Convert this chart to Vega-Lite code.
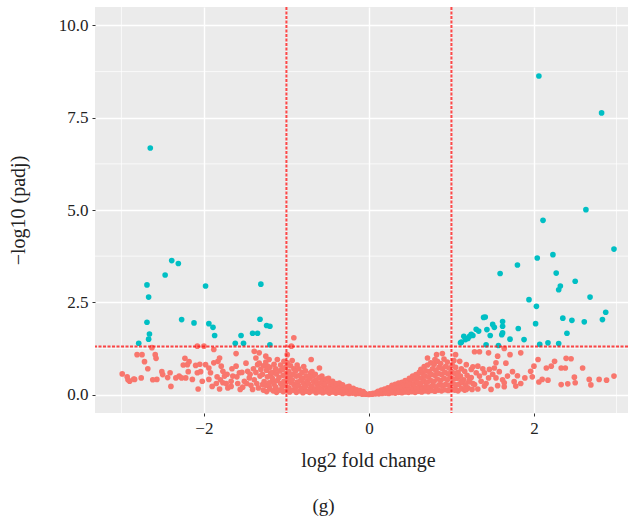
{
  "$schema": "https://vega.github.io/schema/vega-lite/v6.json",
  "width": 533,
  "height": 406,
  "autosize": "none",
  "padding": {"left": 95, "top": 7, "right": 1, "bottom": 104},
  "title": {"text": "(g)", "orient": "bottom", "anchor": "middle", "offset": 27, "dx": -38, "font": "Liberation Serif", "fontSize": 19, "fontWeight": "normal", "color": "#222"},
  "config": {
    "view": {"fill": "#EBEBEB", "stroke": null},
    "axis": {"domain": false, "grid": true, "gridColor": "#FFFFFF", "gridWidth": 1.4, "tickColor": "#333333", "tickSize": 3, "labelFont": "Liberation Serif", "labelFontSize": 17, "labelColor": "#222222", "titleFont": "Liberation Serif", "titleFontSize": 20, "titleFontWeight": "normal", "titleColor": "#222222", "labelPadding": 4}
  },
  "datasets": {
    "pts": [
      {"x":-2.65,"y":6.68,"g":"yes"},{"x":-2.39,"y":3.63,"g":"yes"},{"x":-2.31,"y":3.55,"g":"yes"},{"x":-2.47,"y":3.24,"g":"yes"},{"x":-2.69,"y":2.97,"g":"yes"},{"x":-2.67,"y":2.64,"g":"yes"},{"x":-1.98,"y":2.94,"g":"yes"},{"x":-1.31,"y":2.99,"g":"yes"},{"x":-2.69,"y":1.96,"g":"yes"},{"x":-2.27,"y":2.03,"g":"yes"},{"x":-2.12,"y":1.94,"g":"yes"},{"x":-1.94,"y":1.92,"g":"yes"},{"x":-1.89,"y":1.82,"g":"yes"},{"x":-1.87,"y":1.60,"g":"yes"},{"x":-2.66,"y":1.64,"g":"yes"},{"x":-2.67,"y":1.50,"g":"yes"},{"x":-2.79,"y":1.39,"g":"yes"},{"x":-1.55,"y":1.60,"g":"yes"},{"x":-1.62,"y":1.39,"g":"yes"},{"x":-1.52,"y":1.39,"g":"yes"},{"x":-1.41,"y":1.66,"g":"yes"},{"x":-1.35,"y":1.66,"g":"yes"},{"x":-1.32,"y":2.04,"g":"yes"},{"x":-1.24,"y":1.87,"g":"yes"},{"x":-1.20,"y":1.85,"g":"yes"},{"x":-1.20,"y":1.35,"g":"yes"},
      {"x":2.06,"y":8.63,"g":"yes"},{"x":2.82,"y":7.63,"g":"yes"},{"x":2.63,"y":5.01,"g":"yes"},{"x":2.11,"y":4.72,"g":"yes"},{"x":2.97,"y":3.94,"g":"yes"},{"x":2.23,"y":3.79,"g":"yes"},{"x":2.04,"y":3.70,"g":"yes"},{"x":1.80,"y":3.51,"g":"yes"},{"x":1.59,"y":3.28,"g":"yes"},{"x":2.27,"y":3.29,"g":"yes"},{"x":2.50,"y":3.07,"g":"yes"},{"x":2.32,"y":2.94,"g":"yes"},{"x":2.30,"y":2.84,"g":"yes"},{"x":2.68,"y":2.64,"g":"yes"},{"x":1.94,"y":2.57,"g":"yes"},{"x":2.03,"y":2.39,"g":"yes"},{"x":2.87,"y":2.23,"g":"yes"},{"x":2.83,"y":2.03,"g":"yes"},{"x":2.61,"y":1.97,"g":"yes"},{"x":2.46,"y":2.01,"g":"yes"},{"x":2.35,"y":2.07,"g":"yes"},{"x":2.02,"y":1.92,"g":"yes"},{"x":2.40,"y":1.66,"g":"yes"},{"x":1.39,"y":2.09,"g":"yes"},{"x":1.41,"y":2.10,"g":"yes"},{"x":1.62,"y":1.98,"g":"yes"},{"x":1.62,"y":1.85,"g":"yes"},{"x":1.50,"y":1.90,"g":"yes"},{"x":1.52,"y":1.82,"g":"yes"},{"x":1.43,"y":1.76,"g":"yes"},{"x":1.47,"y":1.60,"g":"yes"},{"x":1.62,"y":1.67,"g":"yes"},{"x":1.61,"y":1.62,"g":"yes"},{"x":1.81,"y":1.79,"g":"yes"},{"x":1.30,"y":1.77,"g":"yes"},{"x":1.24,"y":1.63,"g":"yes"},{"x":1.22,"y":1.58,"g":"yes"},{"x":1.15,"y":1.58,"g":"yes"},{"x":1.17,"y":1.49,"g":"yes"},{"x":1.11,"y":1.40,"g":"yes"},{"x":1.71,"y":1.50,"g":"yes"},{"x":1.88,"y":1.49,"g":"yes"},{"x":1.42,"y":1.35,"g":"yes"},{"x":1.57,"y":1.33,"g":"yes"},{"x":2.07,"y":1.36,"g":"yes"},{"x":2.17,"y":1.40,"g":"yes"},{"x":2.30,"y":1.38,"g":"yes"},{"x":1.12,"y":1.42,"g":"yes"},{"x":1.20,"y":1.52,"g":"yes"},{"x":1.26,"y":1.60,"g":"yes"},{"x":1.33,"y":1.72,"g":"yes"},
      {"x":-2.81,"y":1.08,"g":"no"},{"x":-2.75,"y":1.08,"g":"no"},{"x":-2.72,"y":0.89,"g":"no"},{"x":-2.68,"y":0.70,"g":"no"},{"x":-2.63,"y":1.27,"g":"no"},{"x":-2.59,"y":1.08,"g":"no"},{"x":-2.58,"y":0.98,"g":"no"},{"x":-2.99,"y":0.56,"g":"no"},{"x":-2.93,"y":0.48,"g":"no"},{"x":-2.90,"y":0.36,"g":"no"},{"x":-2.84,"y":0.41,"g":"no"},{"x":-2.76,"y":0.45,"g":"no"},{"x":-2.57,"y":0.41,"g":"no"},{"x":-2.51,"y":0.62,"g":"no"},{"x":-2.50,"y":0.54,"g":"no"},{"x":-2.41,"y":0.59,"g":"no"},{"x":-2.40,"y":0.22,"g":"no"},{"x":-2.34,"y":0.45,"g":"no"},{"x":-2.30,"y":0.50,"g":"no"},{"x":-2.23,"y":0.98,"g":"no"},{"x":-2.18,"y":0.89,"g":"no"},{"x":-2.20,"y":0.81,"g":"no"},{"x":-2.19,"y":0.62,"g":"no"},{"x":-2.22,"y":0.45,"g":"no"},{"x":-2.14,"y":0.41,"g":"no"},{"x":-2.10,"y":0.79,"g":"no"},{"x":-2.08,"y":0.59,"g":"no"},{"x":-2.07,"y":0.15,"g":"no"},{"x":-2.02,"y":0.36,"g":"no"},{"x":-2.00,"y":1.31,"g":"no"},{"x":-2.08,"y":1.31,"g":"no"},{"x":-1.98,"y":0.81,"g":"no"},{"x":-1.94,"y":0.72,"g":"no"},{"x":-1.92,"y":0.59,"g":"no"},{"x":-1.94,"y":0.41,"g":"no"},{"x":-1.90,"y":0.22,"g":"no"},{"x":-1.88,"y":1.22,"g":"no"},{"x":-1.88,"y":0.86,"g":"no"},{"x":-1.83,"y":0.90,"g":"no"},{"x":-1.81,"y":0.99,"g":"no"},{"x":-1.79,"y":0.77,"g":"no"},{"x":-1.77,"y":0.63,"g":"no"},{"x":-1.75,"y":0.50,"g":"no"},{"x":-1.77,"y":0.32,"g":"no"},{"x":-1.71,"y":0.18,"g":"no"},{"x":-1.67,"y":0.36,"g":"no"},{"x":-1.65,"y":0.50,"g":"no"},{"x":-1.61,"y":1.11,"g":"no"},{"x":-1.61,"y":0.77,"g":"no"},{"x":-1.57,"y":0.59,"g":"no"},{"x":-1.56,"y":0.14,"g":"no"},{"x":-1.51,"y":0.36,"g":"no"},{"x":-1.47,"y":0.63,"g":"no"},{"x":-1.45,"y":0.45,"g":"no"},{"x":-1.41,"y":0.14,"g":"no"},{"x":-1.39,"y":1.17,"g":"no"},{"x":-1.37,"y":0.99,"g":"no"},{"x":-1.35,"y":0.81,"g":"no"},{"x":-1.33,"y":1.13,"g":"no"},{"x":-1.31,"y":0.68,"g":"no"},{"x":-1.32,"y":0.50,"g":"no"},{"x":-1.29,"y":0.27,"g":"no"},{"x":-1.25,"y":1.04,"g":"no"},{"x":-1.23,"y":0.77,"g":"no"},{"x":-1.21,"y":0.95,"g":"no"},{"x":-1.19,"y":0.59,"g":"no"},{"x":-1.17,"y":0.36,"g":"no"},{"x":-1.21,"y":0.22,"g":"no"},
      {"x":-2.92,"y":0.40,"g":"no"},{"x":-2.85,"y":0.42,"g":"no"},{"x":-2.62,"y":0.40,"g":"no"},{"x":-2.44,"y":0.46,"g":"no"},{"x":-2.25,"y":0.80,"g":"no"},{"x":-2.27,"y":0.45,"g":"no"},{"x":-2.04,"y":0.62,"g":"no"},{"x":-2.05,"y":0.82,"g":"no"},
      {"x":-1.85,"y":0.30,"g":"no"},{"x":-1.84,"y":0.48,"g":"no"},{"x":-1.80,"y":0.40,"g":"no"},{"x":-1.81,"y":0.15,"g":"no"},{"x":-1.72,"y":0.55,"g":"no"},{"x":-1.73,"y":0.30,"g":"no"},{"x":-1.66,"y":0.70,"g":"no"},{"x":-1.67,"y":0.22,"g":"no"},{"x":-1.60,"y":0.48,"g":"no"},{"x":-1.59,"y":0.30,"g":"no"},{"x":-1.54,"y":0.60,"g":"no"},{"x":-1.53,"y":0.20,"g":"no"},{"x":-1.48,"y":0.30,"g":"no"},{"x":-1.49,"y":0.85,"g":"no"},{"x":-1.44,"y":0.55,"g":"no"},{"x":-1.43,"y":0.25,"g":"no"},{"x":-1.40,"y":0.70,"g":"no"},{"x":-1.39,"y":0.40,"g":"no"},{"x":-1.36,"y":0.30,"g":"no"},{"x":-1.37,"y":0.60,"g":"no"},{"x":-1.33,"y":0.85,"g":"no"},{"x":-1.34,"y":0.18,"g":"no"},
      {"x":-0.91,"y":1.54,"g":"no"},{"x":-0.94,"y":1.31,"g":"no"},{"x":-0.99,"y":1.08,"g":"no"},{"x":-0.70,"y":0.95,"g":"no"},{"x":-0.60,"y":0.72,"g":"no"},{"x":0.71,"y":0.99,"g":"no"},{"x":0.82,"y":1.08,"g":"no"},{"x":0.89,"y":1.11,"g":"no"},
      {"x":-1.28,"y":0.12,"g":"no"},{"x":-1.27,"y":0.35,"g":"no"},{"x":-1.29,"y":0.55,"g":"no"},{"x":-1.28,"y":0.78,"g":"no"},
      {"x":-1.24,"y":0.08,"g":"no"},{"x":-1.25,"y":0.25,"g":"no"},{"x":-1.23,"y":0.48,"g":"no"},{"x":-1.24,"y":0.66,"g":"no"},{"x":-1.25,"y":0.88,"g":"no"},
      {"x":-1.20,"y":0.15,"g":"no"},{"x":-1.21,"y":0.32,"g":"no"},{"x":-1.19,"y":0.52,"g":"no"},{"x":-1.20,"y":0.74,"g":"no"},
      {"x":-1.16,"y":0.10,"g":"no"},{"x":-1.15,"y":0.28,"g":"no"},{"x":-1.17,"y":0.44,"g":"no"},{"x":-1.16,"y":0.60,"g":"no"},{"x":-1.15,"y":0.82,"g":"no"},
      {"x":-1.12,"y":0.06,"g":"no"},{"x":-1.13,"y":0.20,"g":"no"},{"x":-1.11,"y":0.38,"g":"no"},{"x":-1.12,"y":0.56,"g":"no"},{"x":-1.13,"y":0.70,"g":"no"},{"x":-1.11,"y":0.95,"g":"no"},
      {"x":-1.08,"y":0.12,"g":"no"},{"x":-1.07,"y":0.30,"g":"no"},{"x":-1.09,"y":0.46,"g":"no"},{"x":-1.08,"y":0.64,"g":"no"},{"x":-1.07,"y":0.80,"g":"no"},
      {"x":-1.04,"y":0.08,"g":"no"},{"x":-1.05,"y":0.22,"g":"no"},{"x":-1.03,"y":0.36,"g":"no"},{"x":-1.04,"y":0.52,"g":"no"},{"x":-1.05,"y":0.68,"g":"no"},{"x":-1.03,"y":0.90,"g":"no"},
      {"x":-1.00,"y":0.10,"g":"no"},{"x":-1.01,"y":0.26,"g":"no"},{"x":-0.99,"y":0.42,"g":"no"},{"x":-1.00,"y":0.58,"g":"no"},{"x":-1.01,"y":0.74,"g":"no"},{"x":-0.99,"y":0.86,"g":"no"},
      {"x":-0.96,"y":0.07,"g":"no"},{"x":-0.97,"y":0.18,"g":"no"},{"x":-0.95,"y":0.33,"g":"no"},{"x":-0.96,"y":0.48,"g":"no"},{"x":-0.97,"y":0.62,"g":"no"},{"x":-0.95,"y":0.78,"g":"no"},
      {"x":-0.92,"y":0.12,"g":"no"},{"x":-0.91,"y":0.27,"g":"no"},{"x":-0.93,"y":0.40,"g":"no"},{"x":-0.92,"y":0.55,"g":"no"},{"x":-0.91,"y":0.70,"g":"no"},{"x":-0.93,"y":0.92,"g":"no"},
      {"x":-0.88,"y":0.06,"g":"no"},{"x":-0.89,"y":0.20,"g":"no"},{"x":-0.87,"y":0.34,"g":"no"},{"x":-0.88,"y":0.50,"g":"no"},{"x":-0.89,"y":0.64,"g":"no"},{"x":-0.87,"y":0.80,"g":"no"},
      {"x":-0.84,"y":0.10,"g":"no"},{"x":-0.85,"y":0.24,"g":"no"},{"x":-0.83,"y":0.38,"g":"no"},{"x":-0.84,"y":0.52,"g":"no"},{"x":-0.85,"y":0.70,"g":"no"},
      {"x":-0.80,"y":0.05,"g":"no"},{"x":-0.81,"y":0.16,"g":"no"},{"x":-0.79,"y":0.30,"g":"no"},{"x":-0.80,"y":0.44,"g":"no"},{"x":-0.81,"y":0.60,"g":"no"},{"x":-0.79,"y":0.76,"g":"no"},
      {"x":-0.76,"y":0.09,"g":"no"},{"x":-0.77,"y":0.22,"g":"no"},{"x":-0.75,"y":0.36,"g":"no"},{"x":-0.76,"y":0.50,"g":"no"},{"x":-0.77,"y":0.64,"g":"no"},
      {"x":-0.72,"y":0.06,"g":"no"},{"x":-0.71,"y":0.17,"g":"no"},{"x":-0.73,"y":0.30,"g":"no"},{"x":-0.72,"y":0.44,"g":"no"},{"x":-0.71,"y":0.58,"g":"no"},
      {"x":-0.68,"y":0.10,"g":"no"},{"x":-0.69,"y":0.22,"g":"no"},{"x":-0.67,"y":0.35,"g":"no"},{"x":-0.68,"y":0.50,"g":"no"},{"x":-0.69,"y":0.62,"g":"no"},
      {"x":-0.64,"y":0.05,"g":"no"},{"x":-0.65,"y":0.15,"g":"no"},{"x":-0.63,"y":0.28,"g":"no"},{"x":-0.64,"y":0.40,"g":"no"},{"x":-0.65,"y":0.55,"g":"no"},
      {"x":-0.60,"y":0.08,"g":"no"},{"x":-0.61,"y":0.20,"g":"no"},{"x":-0.59,"y":0.32,"g":"no"},{"x":-0.60,"y":0.46,"g":"no"},
      {"x":-0.56,"y":0.05,"g":"no"},{"x":-0.57,"y":0.14,"g":"no"},{"x":-0.55,"y":0.25,"g":"no"},{"x":-0.56,"y":0.38,"g":"no"},{"x":-0.57,"y":0.50,"g":"no"},
      {"x":-0.52,"y":0.08,"g":"no"},{"x":-0.51,"y":0.18,"g":"no"},{"x":-0.53,"y":0.30,"g":"no"},{"x":-0.52,"y":0.42,"g":"no"},
      {"x":-0.48,"y":0.04,"g":"no"},{"x":-0.49,"y":0.12,"g":"no"},{"x":-0.47,"y":0.22,"g":"no"},{"x":-0.48,"y":0.34,"g":"no"},{"x":-0.49,"y":0.44,"g":"no"},
      {"x":-0.44,"y":0.07,"g":"no"},{"x":-0.45,"y":0.16,"g":"no"},{"x":-0.43,"y":0.26,"g":"no"},{"x":-0.44,"y":0.36,"g":"no"},
      {"x":-0.40,"y":0.04,"g":"no"},{"x":-0.41,"y":0.11,"g":"no"},{"x":-0.39,"y":0.20,"g":"no"},{"x":-0.40,"y":0.30,"g":"no"},
      {"x":-0.36,"y":0.06,"g":"no"},{"x":-0.37,"y":0.14,"g":"no"},{"x":-0.35,"y":0.23,"g":"no"},{"x":-0.36,"y":0.31,"g":"no"},
      {"x":-0.32,"y":0.03,"g":"no"},{"x":-0.33,"y":0.10,"g":"no"},{"x":-0.31,"y":0.18,"g":"no"},{"x":-0.32,"y":0.26,"g":"no"},
      {"x":-0.28,"y":0.05,"g":"no"},{"x":-0.29,"y":0.12,"g":"no"},{"x":-0.27,"y":0.20,"g":"no"},
      {"x":-0.24,"y":0.03,"g":"no"},{"x":-0.25,"y":0.09,"g":"no"},{"x":-0.23,"y":0.16,"g":"no"},{"x":-0.24,"y":0.22,"g":"no"},
      {"x":-0.20,"y":0.04,"g":"no"},{"x":-0.21,"y":0.10,"g":"no"},{"x":-0.19,"y":0.17,"g":"no"},
      {"x":-0.16,"y":0.02,"g":"no"},{"x":-0.17,"y":0.07,"g":"no"},{"x":-0.15,"y":0.13,"g":"no"},
      {"x":-0.12,"y":0.03,"g":"no"},{"x":-0.13,"y":0.08,"g":"no"},{"x":-0.11,"y":0.11,"g":"no"},
      {"x":-0.08,"y":0.01,"g":"no"},{"x":-0.09,"y":0.05,"g":"no"},{"x":-0.07,"y":0.08,"g":"no"},
      {"x":-0.04,"y":0.01,"g":"no"},{"x":-0.05,"y":0.03,"g":"no"},
      {"x":0.00,"y":0.00,"g":"no"},{"x":0.01,"y":0.02,"g":"no"},
      {"x":0.04,"y":0.01,"g":"no"},{"x":0.05,"y":0.03,"g":"no"},
      {"x":0.08,"y":0.02,"g":"no"},{"x":0.09,"y":0.05,"g":"no"},
      {"x":0.12,"y":0.02,"g":"no"},{"x":0.13,"y":0.06,"g":"no"},{"x":0.11,"y":0.09,"g":"no"},
      {"x":0.16,"y":0.03,"g":"no"},{"x":0.17,"y":0.08,"g":"no"},{"x":0.15,"y":0.12,"g":"no"},
      {"x":0.20,"y":0.04,"g":"no"},{"x":0.21,"y":0.09,"g":"no"},{"x":0.19,"y":0.15,"g":"no"},
      {"x":0.24,"y":0.03,"g":"no"},{"x":0.25,"y":0.10,"g":"no"},{"x":0.23,"y":0.18,"g":"no"},
      {"x":0.28,"y":0.05,"g":"no"},{"x":0.29,"y":0.12,"g":"no"},{"x":0.27,"y":0.20,"g":"no"},{"x":0.28,"y":0.25,"g":"no"},
      {"x":0.32,"y":0.04,"g":"no"},{"x":0.33,"y":0.11,"g":"no"},{"x":0.31,"y":0.19,"g":"no"},{"x":0.32,"y":0.28,"g":"no"},
      {"x":0.36,"y":0.06,"g":"no"},{"x":0.37,"y":0.14,"g":"no"},{"x":0.35,"y":0.23,"g":"no"},{"x":0.36,"y":0.31,"g":"no"},
      {"x":0.40,"y":0.05,"g":"no"},{"x":0.41,"y":0.13,"g":"no"},{"x":0.39,"y":0.22,"g":"no"},{"x":0.40,"y":0.33,"g":"no"},
      {"x":0.44,"y":0.07,"g":"no"},{"x":0.45,"y":0.16,"g":"no"},{"x":0.43,"y":0.27,"g":"no"},{"x":0.44,"y":0.38,"g":"no"},
      {"x":0.48,"y":0.06,"g":"no"},{"x":0.49,"y":0.15,"g":"no"},{"x":0.47,"y":0.26,"g":"no"},{"x":0.48,"y":0.36,"g":"no"},{"x":0.49,"y":0.44,"g":"no"},
      {"x":0.52,"y":0.08,"g":"no"},{"x":0.53,"y":0.18,"g":"no"},{"x":0.51,"y":0.30,"g":"no"},{"x":0.52,"y":0.42,"g":"no"},{"x":0.53,"y":0.50,"g":"no"},
      {"x":0.56,"y":0.06,"g":"no"},{"x":0.57,"y":0.16,"g":"no"},{"x":0.55,"y":0.28,"g":"no"},{"x":0.56,"y":0.40,"g":"no"},{"x":0.57,"y":0.54,"g":"no"},
      {"x":0.60,"y":0.09,"g":"no"},{"x":0.61,"y":0.20,"g":"no"},{"x":0.59,"y":0.33,"g":"no"},{"x":0.60,"y":0.46,"g":"no"},{"x":0.61,"y":0.60,"g":"no"},
      {"x":0.64,"y":0.07,"g":"no"},{"x":0.65,"y":0.18,"g":"no"},{"x":0.63,"y":0.30,"g":"no"},{"x":0.64,"y":0.44,"g":"no"},{"x":0.65,"y":0.58,"g":"no"},{"x":0.63,"y":0.68,"g":"no"},
      {"x":0.68,"y":0.10,"g":"no"},{"x":0.69,"y":0.22,"g":"no"},{"x":0.67,"y":0.36,"g":"no"},{"x":0.68,"y":0.50,"g":"no"},{"x":0.69,"y":0.64,"g":"no"},{"x":0.67,"y":0.76,"g":"no"},
      {"x":0.72,"y":0.08,"g":"no"},{"x":0.73,"y":0.20,"g":"no"},{"x":0.71,"y":0.34,"g":"no"},{"x":0.72,"y":0.48,"g":"no"},{"x":0.73,"y":0.62,"g":"no"},{"x":0.71,"y":0.80,"g":"no"},
      {"x":0.76,"y":0.11,"g":"no"},{"x":0.77,"y":0.24,"g":"no"},{"x":0.75,"y":0.38,"g":"no"},{"x":0.76,"y":0.54,"g":"no"},{"x":0.77,"y":0.70,"g":"no"},{"x":0.75,"y":0.86,"g":"no"},
      {"x":0.80,"y":0.09,"g":"no"},{"x":0.81,"y":0.21,"g":"no"},{"x":0.79,"y":0.36,"g":"no"},{"x":0.80,"y":0.52,"g":"no"},{"x":0.81,"y":0.66,"g":"no"},{"x":0.79,"y":0.82,"g":"no"},{"x":0.80,"y":0.95,"g":"no"},
      {"x":0.84,"y":0.12,"g":"no"},{"x":0.85,"y":0.26,"g":"no"},{"x":0.83,"y":0.42,"g":"no"},{"x":0.84,"y":0.58,"g":"no"},{"x":0.85,"y":0.74,"g":"no"},{"x":0.83,"y":0.90,"g":"no"},
      {"x":0.88,"y":0.10,"g":"no"},{"x":0.89,"y":0.24,"g":"no"},{"x":0.87,"y":0.38,"g":"no"},{"x":0.88,"y":0.54,"g":"no"},{"x":0.89,"y":0.70,"g":"no"},{"x":0.87,"y":0.84,"g":"no"},
      {"x":0.92,"y":0.13,"g":"no"},{"x":0.93,"y":0.28,"g":"no"},{"x":0.91,"y":0.44,"g":"no"},{"x":0.92,"y":0.60,"g":"no"},{"x":0.93,"y":0.76,"g":"no"},{"x":0.91,"y":0.96,"g":"no"},
      {"x":0.96,"y":0.11,"g":"no"},{"x":0.97,"y":0.25,"g":"no"},{"x":0.95,"y":0.40,"g":"no"},{"x":0.96,"y":0.56,"g":"no"},{"x":0.97,"y":0.72,"g":"no"},{"x":0.95,"y":0.88,"g":"no"},
      {"x":1.00,"y":0.14,"g":"no"},{"x":1.01,"y":0.30,"g":"no"},{"x":0.99,"y":0.46,"g":"no"},{"x":1.00,"y":0.62,"g":"no"},{"x":1.01,"y":0.80,"g":"no"},
      {"x":1.04,"y":0.12,"g":"no"},{"x":1.05,"y":0.26,"g":"no"},{"x":1.03,"y":0.42,"g":"no"},{"x":1.04,"y":0.58,"g":"no"},{"x":1.05,"y":0.74,"g":"no"},{"x":1.03,"y":0.92,"g":"no"},
      {"x":1.08,"y":0.10,"g":"no"},{"x":1.09,"y":0.28,"g":"no"},{"x":1.07,"y":0.44,"g":"no"},{"x":1.08,"y":0.60,"g":"no"},
      {"x":1.12,"y":0.16,"g":"no"},{"x":1.13,"y":0.32,"g":"no"},{"x":1.11,"y":0.50,"g":"no"},{"x":1.12,"y":0.70,"g":"no"},
      {"x":1.16,"y":0.12,"g":"no"},{"x":1.17,"y":0.26,"g":"no"},{"x":1.15,"y":0.40,"g":"no"},
      {"x":1.20,"y":0.18,"g":"no"},{"x":1.21,"y":0.34,"g":"no"},{"x":1.19,"y":0.52,"g":"no"},
      {"x":1.25,"y":0.14,"g":"no"},{"x":1.26,"y":0.30,"g":"no"},{"x":1.24,"y":0.46,"g":"no"},
      {"x":1.05,"y":1.08,"g":"no"},{"x":1.28,"y":1.16,"g":"no"},{"x":1.34,"y":1.16,"g":"no"},{"x":1.45,"y":1.13,"g":"no"},{"x":1.56,"y":1.04,"g":"no"},{"x":1.64,"y":1.25,"g":"no"},{"x":1.71,"y":1.08,"g":"no"},{"x":1.84,"y":1.13,"g":"no"},{"x":2.05,"y":0.95,"g":"no"},{"x":2.39,"y":0.98,"g":"no"},{"x":2.45,"y":0.97,"g":"no"},{"x":2.25,"y":0.90,"g":"no"},{"x":2.21,"y":0.77,"g":"no"},{"x":2.15,"y":0.72,"g":"no"},{"x":2.00,"y":0.77,"g":"no"},{"x":1.96,"y":0.63,"g":"no"},{"x":2.33,"y":0.72,"g":"no"},{"x":2.38,"y":0.72,"g":"no"},{"x":2.59,"y":0.72,"g":"no"},{"x":2.49,"y":0.47,"g":"no"},{"x":2.50,"y":0.32,"g":"no"},{"x":2.41,"y":0.29,"g":"no"},{"x":2.33,"y":0.27,"g":"no"},{"x":2.67,"y":0.41,"g":"no"},{"x":2.69,"y":0.26,"g":"no"},{"x":2.79,"y":0.41,"g":"no"},{"x":2.88,"y":0.39,"g":"no"},{"x":2.97,"y":0.50,"g":"no"},{"x":2.17,"y":0.39,"g":"no"},{"x":2.10,"y":0.41,"g":"no"},{"x":2.06,"y":0.34,"g":"no"},{"x":1.98,"y":0.48,"g":"no"},{"x":1.89,"y":0.45,"g":"no"},{"x":1.84,"y":0.30,"g":"no"},{"x":1.80,"y":0.51,"g":"no"},{"x":1.78,"y":0.23,"g":"no"},{"x":1.68,"y":0.50,"g":"no"},{"x":1.64,"y":0.32,"g":"no"},{"x":1.54,"y":0.45,"g":"no"},{"x":1.56,"y":0.24,"g":"no"},{"x":1.52,"y":0.72,"g":"no"},{"x":1.46,"y":0.68,"g":"no"},{"x":1.54,"y":0.86,"g":"no"},{"x":1.40,"y":0.59,"g":"no"},{"x":1.32,"y":0.77,"g":"no"},{"x":1.30,"y":0.59,"g":"no"},{"x":1.24,"y":0.68,"g":"no"},{"x":1.18,"y":0.81,"g":"no"},{"x":1.16,"y":0.63,"g":"no"},{"x":1.10,"y":0.90,"g":"no"},{"x":1.08,"y":0.50,"g":"no"},{"x":1.12,"y":0.36,"g":"no"},{"x":1.22,"y":0.41,"g":"no"},{"x":1.28,"y":0.27,"g":"no"},{"x":1.36,"y":0.36,"g":"no"},{"x":1.40,"y":0.23,"g":"no"},{"x":1.45,"y":0.45,"g":"no"},{"x":1.05,"y":0.14,"g":"no"},{"x":1.18,"y":0.14,"g":"no"},{"x":1.32,"y":0.15,"g":"no"},{"x":1.48,"y":0.14,"g":"no"},{"x":1.64,"y":0.21,"g":"no"},
      {"x":1.26,"y":0.75,"g":"no"},{"x":1.34,"y":0.50,"g":"no"},{"x":1.38,"y":0.70,"g":"no"},{"x":1.42,"y":0.30,"g":"no"},{"x":1.50,"y":0.55,"g":"no"},{"x":1.58,"y":0.62,"g":"no"},{"x":1.62,"y":0.40,"g":"no"},{"x":1.66,"y":0.85,"g":"no"},{"x":1.74,"y":0.62,"g":"no"},{"x":1.76,"y":0.35,"g":"no"}
    ]
  },
  "layer": [
    {
      "data": {"values": [{"x": -3}, {"x": -1}, {"x": 1}, {"x": 3}]},
      "mark": {"type": "rule", "color": "#FFFFFF", "strokeWidth": 0.7},
      "encoding": {
        "x": {"field": "x", "type": "quantitative", "scale": {"domain": [-3.32, 3.14], "nice": false, "zero": false}, "title": "log2 fold change"}
      }
    },
    {
      "data": {"values": [{"y": 1.25}, {"y": 3.75}, {"y": 6.25}, {"y": 8.75}]},
      "mark": {"type": "rule", "color": "#FFFFFF", "strokeWidth": 0.7},
      "encoding": {
        "y": {"field": "y", "type": "quantitative", "scale": {"domain": [-0.5, 10.5], "nice": false, "zero": false}, "title": "−log10 (padj)"}
      }
    },
    {
      "data": {"name": "pts"},
      "mark": {"type": "circle", "size": 32, "opacity": 1},
      "encoding": {
        "x": {"field": "x", "type": "quantitative", "scale": {"domain": [-3.32, 3.14], "nice": false, "zero": false}, "title": "log2 fold change",
              "axis": {"values": [-2, 0, 2], "format": "d", "titleX": 273, "titlePadding": 14}},
        "y": {"field": "y", "type": "quantitative", "scale": {"domain": [-0.5, 10.5], "nice": false, "zero": false}, "title": "−log10 (padj)",
              "axis": {"values": [0, 2.5, 5, 7.5, 10], "format": ".1f", "titlePadding": 30}},
        "color": {"field": "g", "type": "nominal", "scale": {"domain": ["no", "yes"], "range": ["#F8766D", "#00BFC4"]}, "legend": null}
      }
    },
    {
      "data": {"values": [{"x": -1}, {"x": 1}]},
      "mark": {"type": "rule", "color": "#FF1A1A", "strokeWidth": 2, "strokeDash": [3, 1.5], "opacity": 0.8},
      "encoding": {
        "x": {"field": "x", "type": "quantitative", "scale": {"domain": [-3.32, 3.14], "nice": false, "zero": false}, "title": "log2 fold change"}
      }
    },
    {
      "data": {"values": [{"y": 1.301}]},
      "mark": {"type": "rule", "color": "#FF1A1A", "strokeWidth": 2, "strokeDash": [3, 1.5], "opacity": 0.8},
      "encoding": {
        "y": {"field": "y", "type": "quantitative", "scale": {"domain": [-0.5, 10.5], "nice": false, "zero": false}, "title": "−log10 (padj)"}
      }
    }
  ]
}
